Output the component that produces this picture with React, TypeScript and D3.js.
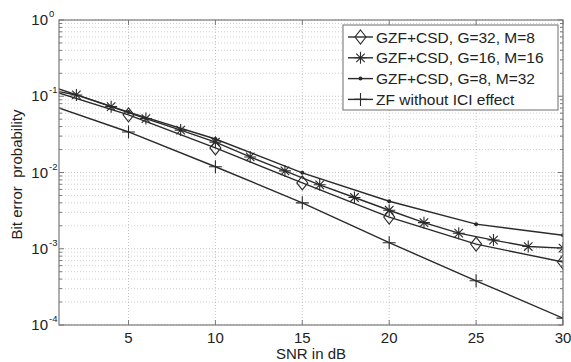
import React from "react";
import * as d3 from "d3";

// SNR values (dB) for each curve
const snr5 = [0, 5, 10, 15, 20, 25, 30];
const snr2 = [0, 2, 4, 6, 8, 10, 12, 14, 16, 18, 20, 22, 24, 26, 28, 30];

// bit error probability
const berG32M8 = [0.13, 0.057, 0.021, 0.0073, 0.0026, 0.00115, 0.00067];
const berG16M16 = [0.127, 0.104, 0.073, 0.051, 0.036, 0.025, 0.016, 0.0105, 0.0069, 0.0047, 0.0032, 0.0022, 0.0016, 0.0013, 0.00107, 0.00102];
const berG8M32 = [0.148, 0.062, 0.0275, 0.0099, 0.0042, 0.0021, 0.0015];
const berZF = [0.084, 0.034, 0.0119, 0.004, 0.0012, 0.00038, 0.000123];

const legendLabels = [
    "GZF+CSD, G=32, M=8",
    "GZF+CSD, G=16, M=16",
    "GZF+CSD, G=8, M=32",
    "ZF without ICI effect",
];
const markerKinds = [ "diamond", "star", "dot", "plus" ];

const xTicks = [ 5, 10, 15, 20, 25, 30 ];
const yDecades = [ 0, -1, -2, -3, -4 ];

const W = 571, H = 362;
const M = { left: 59, right: 8, top: 20, bottom: 37 };
const LINE = "#2a2a2a";
const AXIS = "#7a7a7a";
const FONT = "'Liberation Sans', Arial, sans-serif";

function Marker ( { kind, x, y }: { kind: string; x: number; y: number } )
{
    if ( kind === "diamond" )
        return <path d={ `M${ x },${ y - 7 }L${ x + 5.5 },${ y }L${ x },${ y + 7 }L${ x - 5.5 },${ y }Z` } fill="none" stroke={ LINE } strokeWidth={ 1.1 } />;
    if ( kind === "plus" )
        return <path d={ `M${ x - 6.5 },${ y }H${ x + 6.5 }M${ x },${ y - 6.5 }V${ y + 6.5 }` } stroke={ LINE } strokeWidth={ 1.1 } />;
    if ( kind === "dot" )
        return <circle cx={ x } cy={ y } r={ 2 } fill={ LINE } />;
    const r = 6;
    const d = r * 0.707;
    return <path d={ `M${ x - r },${ y }H${ x + r }M${ x },${ y - r }V${ y + r }M${ x - d },${ y - d }L${ x + d },${ y + d }M${ x - d },${ y + d }L${ x + d },${ y - d }` } stroke={ LINE } strokeWidth={ 1.1 } />;
}

export default function App ()
{
    const iw = W - M.left - M.right;
    const ih = H - M.top - M.bottom;
    const x = d3.scaleLinear().domain( [ 1, 30 ] ).range( [ M.left, M.left + iw ] );
    const y = d3.scaleLog().domain( [ 1e-4, 1 ] ).range( [ M.top + ih, M.top ] );
    const line = d3.line<[ number, number ]>().x( d => x( d[ 0 ] ) ).y( d => y( d[ 1 ] ) );

    const series = [
        { xs: snr5, ys: berG32M8 },
        { xs: snr2, ys: berG16M16 },
        { xs: snr5, ys: berG8M32 },
        { xs: snr5, ys: berZF },
    ];

    const minor: number[] = [];
    for ( let e = -4; e < 0; e++ ) for ( let k = 2; k <= 9; k++ ) minor.push( k * Math.pow( 10, e ) );

    const x0 = M.left, x1 = M.left + iw, y0 = M.top, y1 = M.top + ih;
    const lgX = 343, lgY = 25, lgW = 215, lgH = 85;

    return (
        <svg width={ W } height={ H } style={ { position: "absolute", left: 0, top: 0, background: "#fff" } } fontFamily={ FONT }>
            <defs>
                <clipPath id="plot"><rect x={ x0 } y={ y0 } width={ iw } height={ ih } /></clipPath>
            </defs>
            {/* grid */}
            { minor.map( v => <line key={ "gm" + v } x1={ x0 } x2={ x1 } y1={ y( v ) } y2={ y( v ) } stroke="#c4c4c4" strokeWidth={ 0.8 } strokeDasharray="1,2" /> ) }
            { yDecades.map( e => <line key={ "gd" + e } x1={ x0 } x2={ x1 } y1={ y( Math.pow( 10, e ) ) } y2={ y( Math.pow( 10, e ) ) } stroke="#b4b4b4" strokeWidth={ 0.8 } strokeDasharray="1,2" /> ) }
            { xTicks.map( t => <line key={ "gx" + t } x1={ x( t ) } x2={ x( t ) } y1={ y0 } y2={ y1 } stroke="#b4b4b4" strokeWidth={ 0.8 } strokeDasharray="1,2" /> ) }

            {/* curves */}
            <g clipPath="url(#plot)">
                { series.map( ( s, i ) =>
                {
                    const pts = s.xs.map( ( v, j ) => [ v, s.ys[ j ] ] as [ number, number ] );
                    return (
                        <g key={ i }>
                            <path d={ line( pts ) ?? "" } fill="none" stroke={ LINE } strokeWidth={ 1.4 } />
                            { pts.map( ( p, j ) => <Marker key={ j } kind={ markerKinds[ i ] } x={ x( p[ 0 ] ) } y={ y( p[ 1 ] ) } /> ) }
                        </g>
                    );
                } ) }
            </g>

            {/* axes box and ticks */}
            <rect x={ x0 } y={ y0 } width={ iw } height={ ih } fill="none" stroke={ AXIS } strokeWidth={ 1.2 } />
            { xTicks.map( t => (
                <g key={ "xt" + t }>
                    <line x1={ x( t ) } x2={ x( t ) } y1={ y1 } y2={ y1 - 5 } stroke={ AXIS } />
                    <line x1={ x( t ) } x2={ x( t ) } y1={ y0 } y2={ y0 + 5 } stroke={ AXIS } />
                    <text x={ x( t ) } y={ y1 + 18 } textAnchor="middle" fontSize={ 15 } fill="#222">{ t }</text>
                </g>
            ) ) }
            { minor.map( v => (
                <g key={ "ym" + v }>
                    <line x1={ x0 } x2={ x0 + 3 } y1={ y( v ) } y2={ y( v ) } stroke={ AXIS } />
                    <line x1={ x1 } x2={ x1 - 3 } y1={ y( v ) } y2={ y( v ) } stroke={ AXIS } />
                </g>
            ) ) }
            { yDecades.map( e => (
                <g key={ "yt" + e }>
                    <line x1={ x0 } x2={ x0 + 5 } y1={ y( Math.pow( 10, e ) ) } y2={ y( Math.pow( 10, e ) ) } stroke={ AXIS } />
                    <line x1={ x1 } x2={ x1 - 5 } y1={ y( Math.pow( 10, e ) ) } y2={ y( Math.pow( 10, e ) ) } stroke={ AXIS } />
                    <text x={ 48 } y={ y( Math.pow( 10, e ) ) + 5 } textAnchor="end" fontSize={ 15 } fill="#222">10</text>
                    <text x={ 49 } y={ y( Math.pow( 10, e ) ) - 3 } textAnchor="start" fontSize={ 9.5 } fill="#222">{ e === 0 ? "0" : String( e ) }</text>
                </g>
            ) ) }

            {/* axis titles */}
            <text x={ ( x0 + x1 ) / 2 } y={ 359 } textAnchor="middle" fontSize={ 15 } fill="#222">SNR in dB</text>
            <text transform={ `translate(22,${ ( y0 + y1 ) / 2 + 2 }) rotate(-90)` } textAnchor="middle" fontSize={ 15 } fill="#222" style={ { whiteSpace: "pre" } }>Bit error  probability</text>

            {/* legend */}
            <rect x={ lgX } y={ lgY } width={ lgW } height={ lgH } fill="#fff" stroke={ AXIS } strokeWidth={ 1.1 } />
            { legendLabels.map( ( lab, i ) =>
            {
                const ly = lgY + 12 + i * 20.8;
                return (
                    <g key={ lab }>
                        <line x1={ lgX + 5 } x2={ lgX + 30 } y1={ ly } y2={ ly } stroke={ LINE } strokeWidth={ 1.4 } />
                        <Marker kind={ markerKinds[ i ] } x={ lgX + 17.5 } y={ ly } />
                        <text x={ lgX + 33 } y={ ly + 5.5 } fontSize={ 15.5 } fill="#222">{ lab }</text>
                    </g>
                );
            } ) }
        </svg>
    );
}
